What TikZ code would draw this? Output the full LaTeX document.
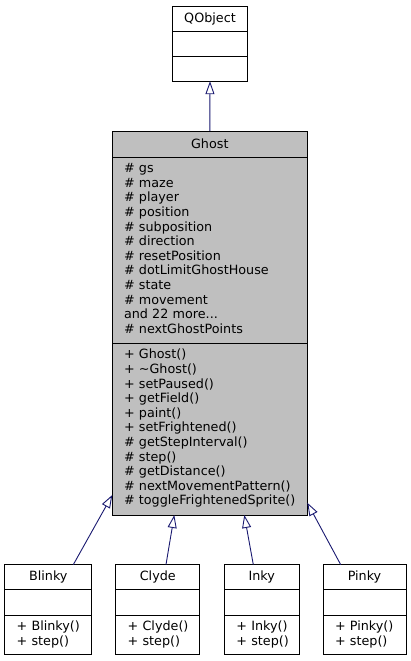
\documentclass[tikz,border=0pt]{standalone}
\usepackage{fontspec}
\setmainfont{DejaVu Sans}
\usetikzlibrary{positioning, arrows.meta}
\definecolor{edgeblue}{HTML}{191970}
\definecolor{ghostgray}{HTML}{BFBFBF}
\tikzstyle{part} = [rectangle, draw=black, line width=1pt, inner sep=0pt, outer sep=0pt, text centered, font=\fontsize{12.75}{14.6}\selectfont]
\tikzstyle{members} = [part, align=left]
\tikzstyle{inherit} = [draw=edgeblue, line width=0.9pt, -{Triangle[open, length=13pt, width=9pt]}]
\newcommand{\memberlist}[1]{\begin{tabular}{@{}l@{}}#1\end{tabular}}

\begin{document}
\begin{tikzpicture}[x=1pt, y=1pt, node distance=0pt]
    \useasboundingbox (0,0) rectangle (411,-661);

    % Base class
    \node (qobj) [part, minimum width=75pt, minimum height=25pt] at (210,-18.7) {QObject};
    \node (qobja) [part, minimum width=75pt, minimum height=25pt, below=of qobj] {};
    \node (qobjm) [part, minimum width=75pt, minimum height=25pt, below=of qobja] {};

    % Ghost
    \node (ghost) [part, fill=ghostgray, minimum width=195pt, minimum height=26pt] at (209.8,-144) {Ghost};
    \node (ghosta) [members, fill=ghostgray, minimum width=195pt, text width=171.6pt, minimum height=186pt, below=of ghost]
        {\memberlist{\# gs\\\# maze\\\# player\\\# position\\\# subposition\\\# direction\\\# resetPosition\\\# dotLimitGhostHouse\\\# state\\\# movement\\and 22 more...\\\# nextGhostPoints}};
    \node (ghostm) [members, fill=ghostgray, minimum width=195pt, text width=171.6pt, minimum height=172pt, below=of ghosta]
        {\memberlist{+ Ghost()\\+ \textasciitilde Ghost()\\+ setPaused()\\+ getField()\\+ paint()\\+ setFrightened()\\\# getStepInterval()\\\# step()\\\# getDistance()\\\# nextMovementPattern()\\\# toggleFrightenedSprite()}};

    % Subclasses
    \node (blinky) [part, minimum width=87.3pt, minimum height=24.7pt] at (48.3,-577) {Blinky};
    \node (blinkya) [part, minimum width=87.3pt, minimum height=26pt, below=of blinky] {};
    \node (blinkym) [members, minimum width=87.3pt, text width=63.3pt, minimum height=39.4pt, below=of blinkya] {\memberlist{+ Blinky()\\+ step()}};

    \node (clyde) [part, minimum width=84.3pt, minimum height=24.7pt] at (157.8,-577) {Clyde};
    \node (clydea) [part, minimum width=84.3pt, minimum height=26pt, below=of clyde] {};
    \node (clydem) [members, minimum width=84.3pt, text width=60.3pt, minimum height=39.4pt, below=of clydea] {\memberlist{+ Clyde()\\+ step()}};

    \node (inky) [part, minimum width=74.7pt, minimum height=24.7pt] at (261.7,-577) {Inky};
    \node (inkya) [part, minimum width=74.7pt, minimum height=26pt, below=of inky] {};
    \node (inkym) [members, minimum width=74.7pt, text width=50.7pt, minimum height=39.4pt, below=of inkya] {\memberlist{+ Inky()\\+ step()}};

    \node (pinky) [part, minimum width=83pt, minimum height=24.7pt] at (364.5,-577) {Pinky};
    \node (pinkya) [part, minimum width=83pt, minimum height=26pt, below=of pinky] {};
    \node (pinkym) [members, minimum width=83pt, text width=59pt, minimum height=39.4pt, below=of pinkya] {\memberlist{+ Pinky()\\+ step()}};

    % Inheritance
    \draw [inherit] (ghost.north) -- (qobjm.south);
    \draw [inherit] ([xshift=25pt]blinky.north) -- ([yshift=20pt]ghostm.south west);
    \draw [inherit] ([xshift=8.2pt]clyde.north) -- ([xshift=62pt]ghostm.south west);
    \draw [inherit] ([xshift=-8.4pt]inky.north) -- ([xshift=132pt]ghostm.south west);
    \draw [inherit] ([xshift=-23.8pt]pinky.north) -- ([yshift=12.3pt]ghostm.south east);

\end{tikzpicture}
\end{document}
